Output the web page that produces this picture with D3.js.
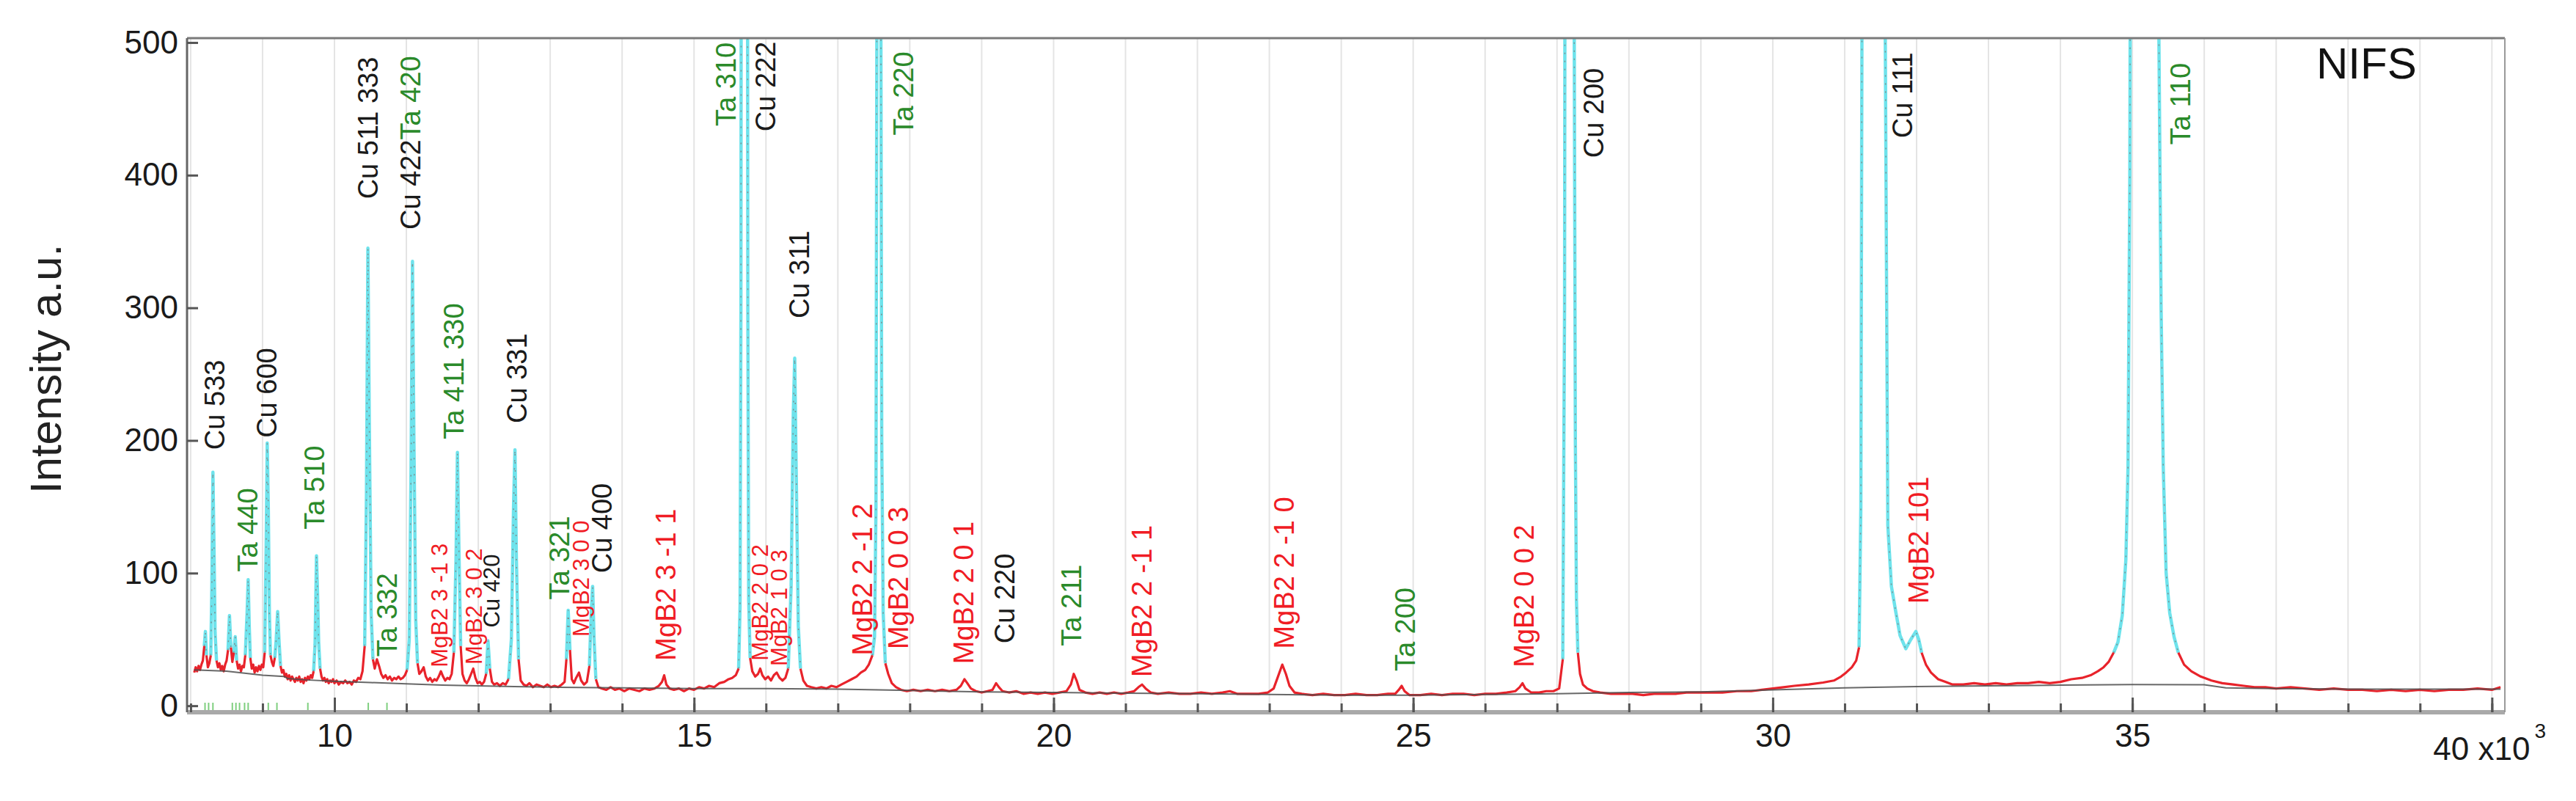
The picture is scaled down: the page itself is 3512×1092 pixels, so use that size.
<!DOCTYPE html>
<html><head><meta charset="utf-8">
<script src="https://cdn.jsdelivr.net/npm/d3@7"></script>
<style>
html,body{margin:0;padding:0;background:#fff;overflow:hidden;}
svg{display:block;font-family:"Liberation Sans",Arial,Helvetica,sans-serif;}
</style></head><body>
<svg id="chart" width="3512" height="1092"></svg>
<script>
// ---------------- DATA (TOF in units of 10^3) ----------------
const xTickValues = [10, 15, 20, 25, 30, 35, 40];
const yTickValues = [0, 100, 200, 300, 400, 500];
const xMinorTickValues = [8,9,10,11,12,13,14,15,16,17,18,19,20,21,22,23,24,25,26,27,28,29,30,31,32,33,34,35,36,37,38,39,40];

// observed / fitted diffraction profile  [tof, intensity]
const observedProfile = [
[8.05,25],[8.07,29],[8.09,26],[8.11,30],[8.13,27],[8.15,31],[8.17,34],[8.19,45],[8.205,56],[8.22,38],[8.24,29],[8.26,32],[8.28,38],[8.295,90],[8.31,176],[8.325,120],[8.34,55],[8.36,34],[8.38,29],[8.40,32],[8.42,27],[8.44,30],[8.46,26],[8.48,31],[8.50,34],[8.52,42],[8.54,68],[8.56,44],[8.58,33],[8.60,40],[8.62,52],[8.64,34],[8.66,28],[8.68,31],[8.70,26],[8.72,30],[8.74,29],[8.76,38],[8.785,70],[8.80,95],[8.815,60],[8.83,36],[8.85,28],[8.87,31],[8.89,25],[8.91,29],[8.93,26],[8.95,30],[8.97,27],[8.99,31],[9.01,29],[9.03,40],[9.05,120],[9.065,198],[9.08,150],[9.095,70],[9.11,38],[9.13,33],[9.15,30],[9.17,36],[9.19,50],[9.21,71],[9.23,48],[9.25,30],[9.27,25],[9.29,27],[9.31,22],[9.33,24],[9.35,20],[9.37,23],[9.39,19],[9.41,22],[9.43,20],[9.45,18],[9.47,21],[9.49,19],[9.51,22],[9.53,18],[9.55,20],[9.57,17],[9.59,21],[9.61,19],[9.63,22],[9.65,20],[9.67,23],[9.69,21],[9.71,26],[9.73,46],[9.75,113],[9.765,85],[9.78,48],[9.80,28],[9.82,22],[9.84,19],[9.86,21],[9.88,18],[9.90,20],[9.92,17],[9.94,19],[9.96,18],[9.98,20],[10.00,17],[10.03,19],[10.06,16],[10.09,18],[10.12,17],[10.15,19],[10.18,17],[10.21,18],[10.24,16],[10.27,19],[10.30,18],[10.33,21],[10.36,20],[10.39,26],[10.42,45],[10.445,160],[10.465,345],[10.485,210],[10.51,70],[10.535,35],[10.56,28],[10.59,35],[10.62,30],[10.65,24],[10.68,21],[10.71,23],[10.74,20],[10.77,22],[10.80,19],[10.83,21],[10.86,20],[10.89,22],[10.92,20],[10.95,21],[10.98,23],[11.01,27],[11.04,50],[11.065,180],[11.085,335],[11.105,200],[11.13,65],[11.155,32],[11.18,24],[11.21,26],[11.24,29],[11.27,22],[11.30,19],[11.33,21],[11.36,18],[11.39,20],[11.42,19],[11.45,22],[11.48,26],[11.51,22],[11.54,19],[11.57,21],[11.60,20],[11.63,24],[11.66,40],[11.69,110],[11.71,191],[11.73,120],[11.755,45],[11.78,24],[11.81,19],[11.84,17],[11.87,20],[11.90,24],[11.93,28],[11.96,21],[11.99,17],[12.02,18],[12.05,16],[12.08,18],[12.11,24],[12.135,49],[12.16,28],[12.19,18],[12.22,16],[12.26,17],[12.30,15],[12.34,17],[12.38,16],[12.42,20],[12.46,50],[12.49,150],[12.51,193],[12.53,110],[12.56,35],[12.59,19],[12.63,16],[12.67,15],[12.71,17],[12.76,14],[12.81,16],[12.86,15],[12.91,14],[12.96,16],[13.01,14],[13.06,15],[13.11,14],[13.16,16],[13.20,18],[13.225,35],[13.25,72],[13.275,42],[13.30,20],[13.33,17],[13.36,21],[13.40,25],[13.43,19],[13.47,16],[13.51,18],[13.545,30],[13.57,70],[13.59,90],[13.61,50],[13.635,20],[13.67,14],[13.72,13],[13.78,12],[13.84,14],[13.90,12],[13.96,13],[14.03,11],[14.10,13],[14.17,12],[14.24,11],[14.31,13],[14.38,12],[14.45,13],[14.51,15],[14.555,18],[14.585,23],[14.615,16],[14.66,13],[14.72,12],[14.79,13],[14.86,11],[14.93,13],[15.00,12],[15.07,14],[15.14,13],[15.21,15],[15.28,14],[15.35,17],[15.42,18],[15.48,20],[15.53,21],[15.58,23],[15.62,28],[15.64,75],[15.652,300],[15.665,1200],[15.70,1400],[15.735,1200],[15.748,300],[15.76,80],[15.78,36],[15.81,26],[15.85,22],[15.89,24],[15.92,28],[15.95,23],[15.99,20],[16.03,22],[16.07,19],[16.11,23],[16.15,25],[16.19,21],[16.23,19],[16.27,21],[16.31,28],[16.35,90],[16.38,220],[16.40,262],[16.42,180],[16.45,60],[16.48,28],[16.52,19],[16.57,15],[16.63,14],[16.70,13],[16.77,14],[16.84,13],[16.91,15],[16.98,14],[17.05,16],[17.12,18],[17.19,20],[17.26,22],[17.32,25],[17.38,27],[17.43,31],[17.48,38],[17.51,52],[17.53,150],[17.545,600],[17.57,1800],[17.595,600],[17.61,200],[17.63,70],[17.66,32],[17.70,24],[17.75,17],[17.81,14],[17.88,12],[17.96,11],[18.05,12],[18.15,11],[18.25,12],[18.35,11],[18.45,12],[18.55,11],[18.65,12],[18.71,15],[18.76,20],[18.80,17],[18.85,13],[18.92,11],[19.00,10],[19.08,11],[19.15,12],[19.20,17],[19.24,14],[19.29,11],[19.38,10],[19.48,11],[19.58,9],[19.68,10],[19.78,9],[19.88,10],[19.98,9],[20.08,10],[20.18,11],[20.24,16],[20.28,24],[20.32,19],[20.36,12],[20.44,10],[20.54,9],[20.64,10],[20.74,9],[20.84,10],[20.94,9],[21.04,10],[21.12,11],[21.18,14],[21.23,16],[21.28,13],[21.35,10],[21.45,9],[21.6,10],[21.75,9],[21.9,9],[22.05,10],[22.2,9],[22.35,10],[22.45,11],[22.55,9],[22.7,9],[22.85,9],[22.98,10],[23.06,13],[23.12,22],[23.18,31],[23.23,24],[23.28,15],[23.35,10],[23.45,9],[23.6,8],[23.75,9],[23.9,8],[24.05,8],[24.2,9],[24.35,8],[24.5,8],[24.65,9],[24.75,9],[24.8,12],[24.84,15],[24.88,11],[24.95,8],[25.1,8],[25.25,9],[25.4,8],[25.55,9],[25.7,9],[25.85,8],[26.0,9],[26.15,9],[26.3,10],[26.42,11],[26.48,14],[26.52,17],[26.56,13],[26.64,10],[26.75,10],[26.85,11],[26.95,11],[27.03,13],[27.08,35],[27.105,300],[27.13,1500],[27.17,2500],[27.21,1500],[27.24,500],[27.255,200],[27.27,80],[27.29,40],[27.32,24],[27.36,16],[27.42,13],[27.5,11],[27.6,10],[27.75,9],[27.9,9],[28.05,9],[28.2,8],[28.35,9],[28.5,9],[28.65,9],[28.8,10],[28.95,10],[29.1,10],[29.3,10],[29.5,11],[29.7,11],[29.85,12],[30.0,13],[30.15,14],[30.3,15],[30.5,16],[30.7,17.5],[30.85,19],[30.95,22],[31.02,25],[31.1,29],[31.16,34],[31.2,44],[31.225,150],[31.24,500],[31.3,1800],[31.4,3000],[31.5,1800],[31.565,500],[31.6,136],[31.65,90],[31.71,71],[31.77,53],[31.85,43],[31.92,50],[31.99,56],[32.03,50],[32.07,40],[32.13,31],[32.2,25],[32.3,20],[32.4,18],[32.5,16],[32.65,16],[32.8,17],[32.95,16],[33.1,17],[33.25,16],[33.4,17],[33.55,17],[33.7,18],[33.85,17],[34.0,18],[34.15,20],[34.3,21],[34.42,23],[34.52,26],[34.6,29],[34.67,33],[34.74,40],[34.80,48],[34.86,68],[34.91,110],[34.94,180],[34.965,400],[35.0,1200],[35.17,3000],[35.33,1200],[35.37,500],[35.40,300],[35.43,180],[35.47,100],[35.52,70],[35.58,52],[35.64,40],[35.72,31],[35.82,26],[35.95,22],[36.1,19],[36.25,17],[36.4,16],[36.55,15],[36.7,14],[36.85,14],[37.0,13],[37.2,14],[37.4,13],[37.6,12],[37.8,13],[38.0,12],[38.2,12],[38.4,11],[38.6,12],[38.8,11],[39.0,12],[39.2,11],[39.4,12],[39.6,12],[39.8,13],[40.0,12],[40.12,14]
];

// refined background  [tof, intensity]
const backgroundProfile = [
[8.05,27],[8.5,26],[9.0,23],[9.3,22],[9.35,20.5],[9.6,19.5],[10.0,18.5],[10.5,17.5],[11.0,16.5],[11.5,15.5],[12.0,15],[12.5,14.5],[13.0,14],[14.0,13.5],[15.0,13],[16.0,13],[17.0,12.5],[18.0,11.5],[19.0,10.5],[20.0,10],[21.0,9.5],[22.0,9],[23.0,8.5],[24.0,8],[25.0,8],[26.0,8.5],[27.0,9],[28.0,10],[29.0,10.5],[30.0,12],[31.0,13.5],[32.0,14.5],[33.0,15],[34.0,15.5],[35.0,16],[36.0,15.8],[36.3,13.5],[37.0,13],[38.0,12.5],[39.0,12.5],[40.12,12.5]
];

// peak annotations ("|" joins two reflections printed as one string)
const peakLabelText = ["Cu 533","Ta 440","Cu 600","Ta 510","Cu 511 333","Ta 332","Cu 422|Ta 420","MgB2 3 -1 3","Ta 411 330","MgB2 3 0 2","Cu 420","Cu 331","Ta 321","MgB2 3 0 0","Cu 400","MgB2 3 -1 1","Ta 310","Cu 222","MgB2 2 0 2","MgB2 1 0 3","Cu 311","MgB2 2 -1 2","Ta 220","MgB2 0 0 3","MgB2 2 0 1","Cu 220","Ta 211","MgB2 2 -1 1","MgB2 2 -1 0","Ta 200","MgB2 0 0 2","Cu 200","Cu 111","MgB2 101","Ta 110"];
const peakLabelTof = [8.33,8.79,9.06,9.72,10.47,10.73,11.06,11.46,11.66,11.94,12.18,12.54,13.13,13.43,13.72,14.61,15.44,15.99,15.92,16.18,16.46,17.34,17.91,17.84,18.75,19.32,20.25,21.23,23.21,24.89,26.54,27.51,31.80,32.03,35.67];
const peakLabelIntensity = [193,101,202,133,382,37,359,29,201,31,59,213,80,52,100,34,437,433,34,30,292,38,430,42.6,31.5,47,45,21.7,43,26,29,413,428,77,423];

// Ta reflection markers along the bottom
const braggTaTof = [8.2,8.25,8.31,8.58,8.63,8.68,8.75,8.8,9.08,9.2,9.63,10.0,10.47,10.73];

// ---------------- STYLE / LAYOUT ----------------
const frame = {left: 255, right: 3415, top: 52, bottom: 971};
const phaseColor = {Cu: "#1a1a1a", Ta: "#2a8a2a", MgB2: "#f01c24"};
const smallLabelSet = new Set(["MgB2 3 -1 3","MgB2 3 0 2","Cu 420","MgB2 3 0 0","MgB2 2 0 2","MgB2 1 0 3"]);
const labelFont = 38, smallLabelFont = 31, tickFont = 44;
const lowLimit = 45;

const x = d3.scaleLinear().domain([7.95, 40.18]).range([frame.left, frame.right]);
const y = d3.scaleLinear().domain([-4.9, 503.3]).range([frame.bottom, frame.top]);

const svg = d3.select("#chart");
svg.append("rect").attr("width", 3512).attr("height", 1092).attr("fill", "#fff");
svg.append("defs").append("clipPath").attr("id", "plotClip").append("rect")
  .attr("x", frame.left).attr("y", frame.top)
  .attr("width", frame.right - frame.left).attr("height", frame.bottom - frame.top);

// vertical grid
svg.append("g").selectAll("line").data(xMinorTickValues).join("line")
  .attr("x1", d => x(d)).attr("x2", d => x(d))
  .attr("y1", frame.top).attr("y2", frame.bottom)
  .attr("stroke", "#e4e4e4").attr("stroke-width", 2);

// data layers
const plot = svg.append("g").attr("clip-path", "url(#plotClip)");
const line = d3.line().x(d => x(d[0])).y(d => y(d[1]));
const segs = d3.pairs(observedProfile);
function runs(pred) {
  const out = []; let cur = null;
  segs.forEach(([a, b]) => {
    if (pred(a, b)) { if (!cur) { cur = [a]; out.push(cur); } cur.push(b); }
    else cur = null;
  });
  return out;
}
const isLow = (a, b) => a[1] <= lowLimit && b[1] <= lowLimit;
const redRuns = runs(isLow);
const cyanRuns = runs((a, b) => !isLow(a, b));

plot.append("g").selectAll("path").data(cyanRuns).join("path")
  .attr("d", line).attr("fill", "none").attr("stroke", "#6ee3ec")
  .attr("stroke-width", 4.5).attr("stroke-linejoin", "round");
plot.append("g").selectAll("path").data(cyanRuns).join("path")
  .attr("d", line).attr("fill", "none").attr("stroke", "#7d8f90")
  .attr("stroke-width", 1.5).attr("stroke-dasharray", "2 9");
plot.append("g").selectAll("path").data(redRuns).join("path")
  .attr("d", line).attr("fill", "none").attr("stroke", "#e8232b")
  .attr("stroke-width", 3.2).attr("stroke-linejoin", "round");
plot.append("path").datum(backgroundProfile)
  .attr("d", line).attr("fill", "none").attr("stroke", "#4d4d4d")
  .attr("stroke-width", 2).attr("opacity", 0.85);

// Bragg markers
svg.append("g").selectAll("line").data(braggTaTof).join("line")
  .attr("x1", d => x(d)).attr("x2", d => x(d))
  .attr("y1", frame.bottom - 13).attr("y2", frame.bottom - 3)
  .attr("stroke", "#7fcf7f").attr("stroke-width", 2);

// frame
svg.append("line").attr("x1", frame.left).attr("x2", frame.right).attr("y1", frame.bottom).attr("y2", frame.bottom)
  .attr("stroke", "#a9a9a9").attr("stroke-width", 6);
svg.append("line").attr("x1", frame.left).attr("x2", frame.right).attr("y1", frame.top).attr("y2", frame.top)
  .attr("stroke", "#7a7a7a").attr("stroke-width", 3);
svg.append("line").attr("x1", frame.right).attr("x2", frame.right).attr("y1", frame.top).attr("y2", frame.bottom)
  .attr("stroke", "#9a9a9a").attr("stroke-width", 2);
svg.append("line").attr("x1", frame.left).attr("x2", frame.left).attr("y1", frame.top).attr("y2", frame.bottom)
  .attr("stroke", "#666").attr("stroke-width", 3);

// axes
function styleAxis(g) {
  g.select(".domain").remove();
  g.selectAll(".tick line").attr("stroke", "#555").attr("stroke-width", 3);
  g.selectAll(".tick text").attr("fill", "#1a1a1a").attr("font-size", tickFont)
    .attr("font-family", "'Liberation Sans', Arial, sans-serif");
}
svg.append("g").attr("transform", `translate(0,${frame.bottom})`)
  .call(d3.axisBottom(x).tickValues(xMinorTickValues).tickSize(-12).tickFormat(""))
  .call(styleAxis);
svg.append("g").attr("transform", `translate(0,${frame.bottom})`)
  .call(d3.axisBottom(x).tickValues(xTickValues).tickSize(-20).tickPadding(16)
    .tickFormat(d => d === 40 ? "" : d))
  .call(styleAxis);
svg.append("g").attr("transform", `translate(${frame.left},0)`)
  .call(d3.axisLeft(y).tickValues(yTickValues).tickSize(-15).tickPadding(12))
  .call(styleAxis);

// last x label with multiplier
const lastLab = svg.append("text").attr("x", x(40) - 80).attr("y", 1036)
  .attr("font-size", tickFont).attr("fill", "#1a1a1a").text("40 x10");
lastLab.append("tspan").attr("dx", 6).attr("dy", -30).attr("font-size", 28).text("3");

// peak labels
const labels = peakLabelText.map((t, i) => ({text: t, tof: peakLabelTof[i], val: peakLabelIntensity[i]}));
const lg = svg.append("g").selectAll("text").data(labels).join("text")
  .attr("transform", d => `translate(${x(d.tof)},${y(d.val)}) rotate(-90)`)
  .attr("dy", "0.35em")
  .attr("font-size", d => smallLabelSet.has(d.text) ? smallLabelFont : labelFont);
lg.each(function(d) {
  const el = d3.select(this);
  d.text.split("|").forEach(part => {
    el.append("tspan").attr("fill", phaseColor[part.split(" ")[0]]).text(part);
  });
});

// title & tag
svg.append("text").attr("transform", "translate(83,503) rotate(-90)")
  .attr("text-anchor", "middle").attr("font-size", 60).attr("fill", "#222")
  .text("Intensity a.u.");
svg.append("text").attr("x", 3158).attr("y", 107).attr("font-size", 60).attr("fill", "#111").text("NIFS");
</script>
</body></html>
